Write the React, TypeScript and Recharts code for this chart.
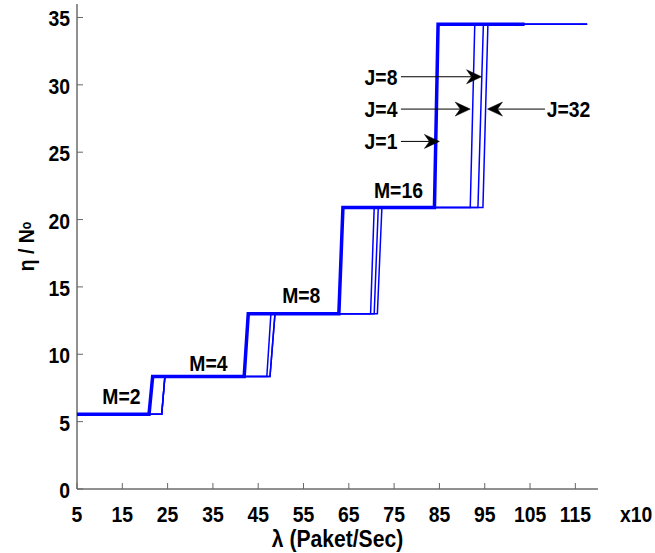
import React from 'react';
import { LineChart, Line, XAxis, YAxis, ReferenceLine, ReferenceDot } from 'recharts';

// ---- data ----
const levels = [5.55, 8.35, 13.0, 20.9, 34.5]; // M=2,4,8,16,32 plateaus
const xStart = 5;

const j1Rise = [20.9, 41.9, 62.8, 83.9];
const j1Top = [21.7, 42.8, 63.7, 84.7];
const j1End = 103.8;

const j4Rise = [23.7, 46.9, 69.8, 91.8];
const j4Top = [24.4, 47.8, 70.6, 92.8];

const j8Rise = [23.7, 47.6, 70.6, 93.5];
const j8Top = [24.4, 48.7, 71.5, 94.7];

const j32Rise = [23.7, 47.6, 71.3, 94.6];
const j32Top = [24.4, 48.7, 72.3, 95.7];

const thinEnd = 117.6;

const xTicks = [5, 15, 25, 35, 45, 55, 65, 75, 85, 95, 105, 115];
const yTicks = [0, 5, 10, 15, 20, 25, 30, 35];

const mLabels = [
  { text: 'M=2', x: 14.8, y: 6.9 },
  { text: 'M=4', x: 34.0, y: 9.35 },
  { text: 'M=8', x: 54.5, y: 14.4 },
  { text: 'M=16', x: 75.95, y: 22.2 },
];
const jLabels = [
  { text: 'J=8', x: 72.1, y: 30.6 },
  { text: 'J=4', x: 72.1, y: 28.2 },
  { text: 'J=1', x: 72.1, y: 25.8 },
  { text: 'J=32', x: 113.5, y: 28.2 },
];
const arrows = [
  { x1: 76.5, x2: 94.3, y: 30.6 },
  { x1: 76.5, x2: 91.8, y: 28.2 },
  { x1: 76.5, x2: 85.0, y: 25.8 },
  { x1: 108.3, x2: 95.6, y: 28.2 },
];

function buildSteps(rise: number[], top: number[], end: number) {
  const pts = [{ x: xStart, y: levels[0] }];
  for (let i = 0; i < rise.length; i++) {
    pts.push({ x: rise[i], y: levels[i] });
    pts.push({ x: top[i], y: levels[i + 1] });
  }
  pts.push({ x: end, y: levels[levels.length - 1] });
  return pts;
}

const j1Data = buildSteps(j1Rise, j1Top, j1End);
const j4Data = buildSteps(j4Rise, j4Top, thinEnd);
const j8Data = buildSteps(j8Rise, j8Top, thinEnd);
const j32Data = buildSteps(j32Rise, j32Top, thinEnd);

const FONT = "'Liberation Sans', Arial, sans-serif";
const BLUE = '#0000ff';
const AXIS = '#222';
const TICKC = '#666';
const SX = 0.88;

const T = ({ x, y, anchor = 'middle', size = 22, children }: any) => (
  <text
    transform={`translate(${x},${y}) scale(${SX},1)`}
    textAnchor={anchor}
    fontFamily={FONT}
    fontWeight="bold"
    fontSize={size}
    fill="#000"
  >
    {children}
  </text>
);

const BottomTick = (p: any) => (
  <g>
    <line x1={p.x} y1={p.y} x2={p.x} y2={p.y - 6} stroke={TICKC} strokeWidth={1} />
    <T x={p.x} y={p.y + 33}>{p.payload.value}</T>
  </g>
);
const TopTick = (p: any) => (
  <line x1={p.x} y1={p.y} x2={p.x} y2={p.y + 6} stroke={TICKC} strokeWidth={1} />
);
const LeftTick = (p: any) => (
  <g>
    <line x1={p.x} y1={p.y} x2={p.x + 6} y2={p.y} stroke={TICKC} strokeWidth={1} />
    <T x={p.x - 7} y={p.y + 9} anchor="end">{p.payload.value}</T>
  </g>
);
const RightTick = (p: any) => (
  <line x1={p.x} y1={p.y} x2={p.x - 6} y2={p.y} stroke={TICKC} strokeWidth={1} />
);

const XLabel = (p: any) => {
  const vb = p.viewBox;
  return (
    <g>
      <T x={vb.x + vb.width / 2} y={vb.y + 58} size={24}>λ (Paket/Sec)</T>
      <T x={vb.x + vb.width + 22} y={vb.y + 33} anchor="start">x10</T>
    </g>
  );
};

const YLabel = (p: any) => {
  const vb = p.viewBox;
  const cx = 34;
  const cy = vb.y + vb.height / 2;
  return (
    <text
      transform={`translate(${cx},${cy}) rotate(-90) scale(${SX},1)`}
      textAnchor="middle"
      fontFamily={FONT}
      fontWeight="bold"
      fontSize={22}
      fill="#000"
    >
      <tspan>η / N</tspan>
      <tspan fontSize={14} dy={-3}>o</tspan>
    </text>
  );
};

const Arrow = (p: any) => {
  const { x1, y1, x2, y2 } = p;
  const dx = x2 - x1;
  const dy = y2 - y1;
  const len = Math.sqrt(dx * dx + dy * dy) || 1;
  const ux = dx / len;
  const uy = dy / len;
  const L = 15;
  const W = 7;
  const N = 5;
  const bx = x2 - ux * L;
  const by = y2 - uy * L;
  const pts = [
    [x2, y2],
    [bx - uy * W, by + ux * W],
    [x2 - ux * (L - N), y2 - uy * (L - N)],
    [bx + uy * W, by - ux * W],
  ]
    .map((q) => q.join(','))
    .join(' ');
  return (
    <g>
      <line x1={x1} y1={y1} x2={x2 - ux * (L - N)} y2={y2 - uy * (L - N)} stroke="#000" strokeWidth={1} />
      <polygon points={pts} fill="#000" stroke="#000" strokeWidth={0.5} />
    </g>
  );
};

const makeText = (text: string) => (p: any) => <T x={p.cx} y={p.cy + 8}>{text}</T>;

export default function App() {
  return (
    <div style={{ position: 'absolute', left: 0, top: 0, width: 655, height: 553, background: '#fff' }}>
      <LineChart width={655} height={553} margin={{ top: 4, right: 57, bottom: 0, left: 0 }}>
        <XAxis
          type="number"
          dataKey="x"
          domain={[5, 120]}
          ticks={xTicks}
          allowDataOverflow
          height={64}
          tickSize={0}
          tickMargin={0}
          tickLine={false}
          axisLine={{ stroke: AXIS, strokeWidth: 1 }}
          tick={BottomTick}
          interval={0}
          label={XLabel}
        />
        <XAxis
          xAxisId="top"
          orientation="top"
          type="number"
          dataKey="x"
          domain={[5, 120]}
          ticks={xTicks}
          allowDataOverflow
          height={0}
          tickSize={0}
          tickMargin={0}
          tickLine={false}
          axisLine={{ stroke: AXIS, strokeWidth: 1 }}
          tick={TopTick}
          interval={0}
        />
        <YAxis
          type="number"
          domain={[0, 36]}
          ticks={yTicks}
          allowDataOverflow
          width={77}
          tickSize={0}
          tickMargin={0}
          tickLine={false}
          axisLine={{ stroke: AXIS, strokeWidth: 1 }}
          tick={LeftTick}
          interval={0}
          label={YLabel}
        />
        <YAxis
          yAxisId="right"
          orientation="right"
          type="number"
          domain={[0, 36]}
          ticks={yTicks}
          allowDataOverflow
          width={0}
          tickSize={0}
          tickMargin={0}
          tickLine={false}
          axisLine={{ stroke: AXIS, strokeWidth: 1 }}
          tick={RightTick}
          interval={0}
        />
        <Line data={j4Data} dataKey="y" type="linear" stroke={BLUE} strokeWidth={1.5} dot={false} isAnimationActive={false} />
        <Line data={j8Data} dataKey="y" type="linear" stroke={BLUE} strokeWidth={1.5} dot={false} isAnimationActive={false} />
        <Line data={j32Data} dataKey="y" type="linear" stroke={BLUE} strokeWidth={1.5} dot={false} isAnimationActive={false} />
        <Line data={j1Data} dataKey="y" type="linear" stroke={BLUE} strokeWidth={3.5} dot={false} isAnimationActive={false} />
        {arrows.map((a, i) => (
          <ReferenceLine
            key={'a' + i}
            segment={[
              { x: a.x1, y: a.y },
              { x: a.x2, y: a.y },
            ]}
            stroke="#000"
            shape={Arrow}
          />
        ))}
        {mLabels.concat(jLabels).map((l, i) => (
          <ReferenceDot key={'t' + i} x={l.x} y={l.y} r={1} shape={makeText(l.text)} />
        ))}
      </LineChart>
    </div>
  );
}
